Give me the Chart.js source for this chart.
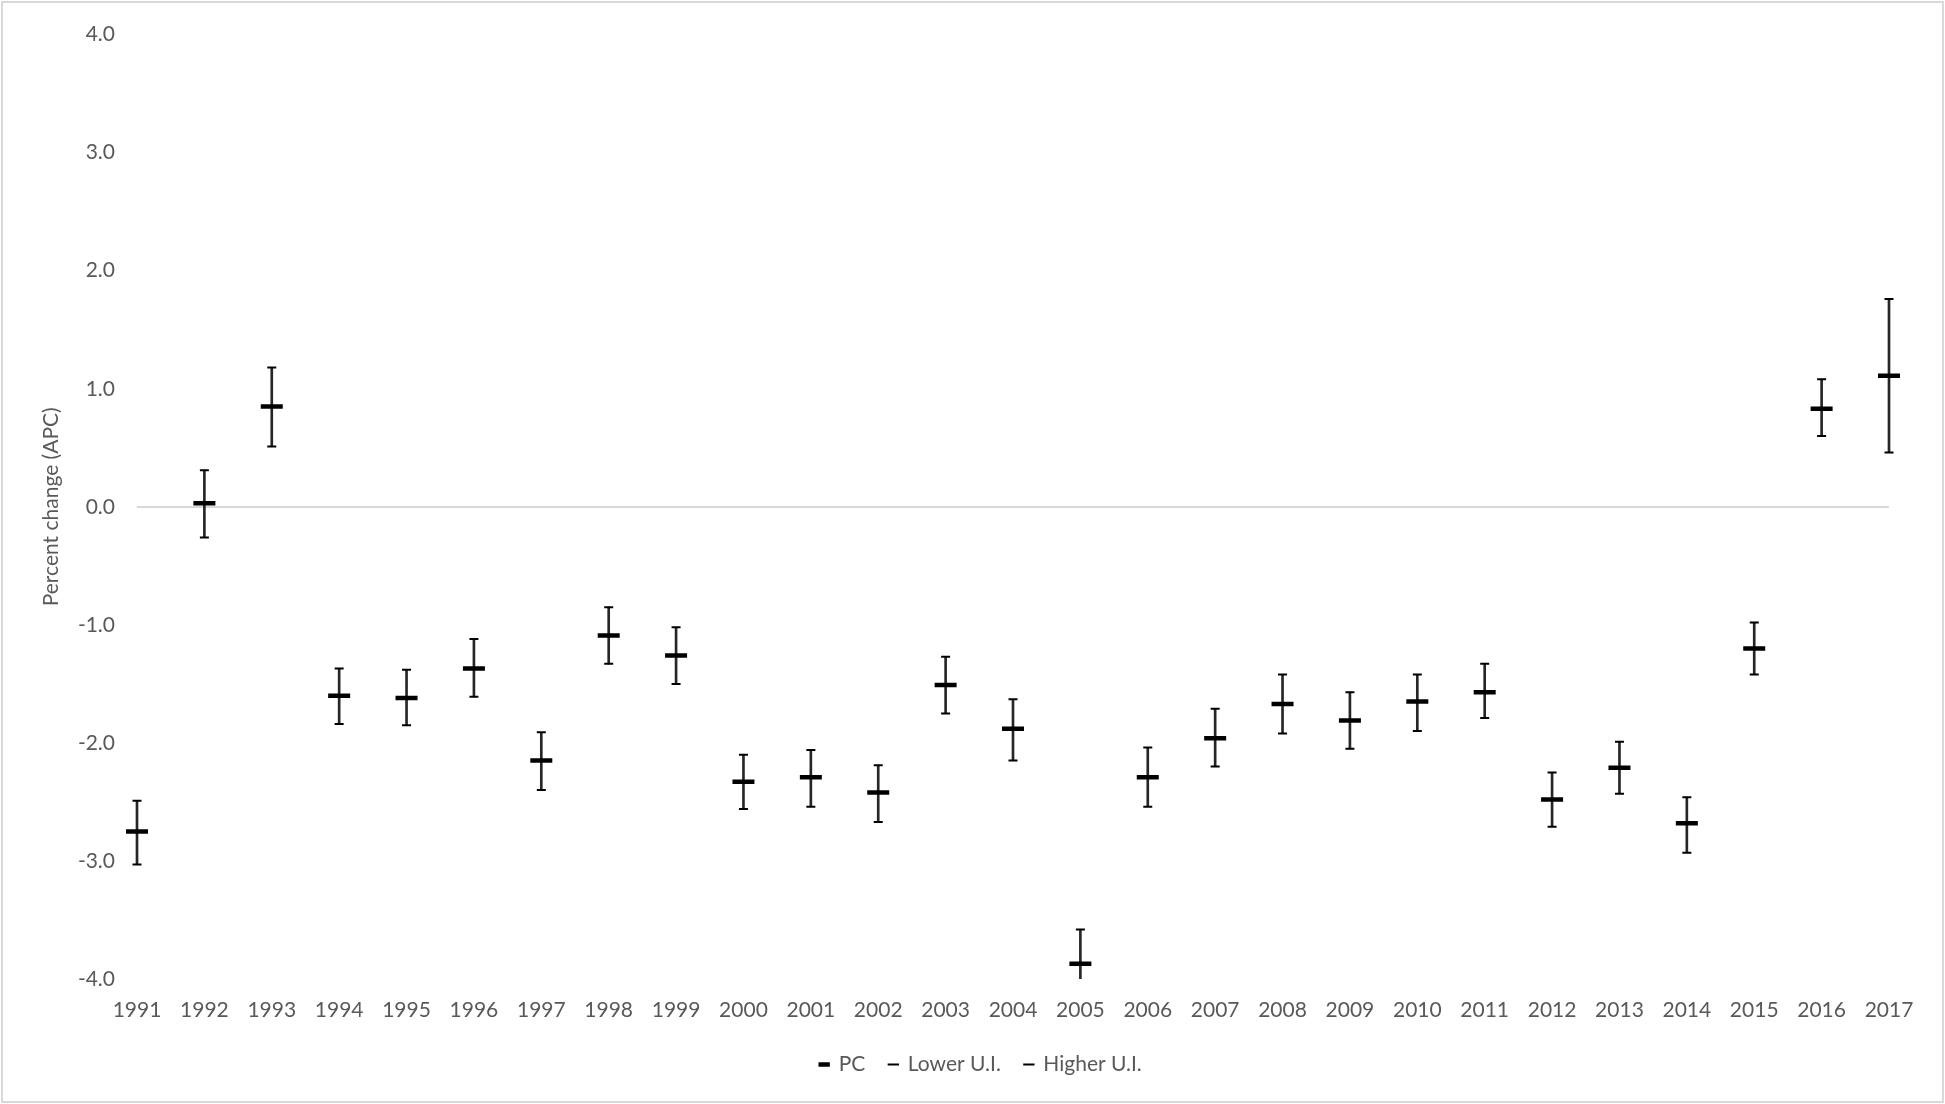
<!DOCTYPE html>
<html>
<head>
<meta charset="utf-8">
<script src="https://cdn.jsdelivr.net/npm/chart.js@4.4.1/dist/chart.umd.min.js"></script>
<style>
  html, body { margin: 0; padding: 0; background: #fff; }
  #wrap { position: relative; width: 1945px; height: 1104px; }
  #frame { position: absolute; left: 1px; top: 1px; width: 1939px; height: 1098px; border: 2px solid #d9d9d9; pointer-events: none; }
</style>
</head>
<body>
<div id="wrap">
  <canvas id="apcChart" width="1945" height="1104"></canvas>
  <div id="frame"></div>
</div>
<script>
// annual percent change with uncertainty interval, 1991-2017
const years = ['1991', '1992', '1993', '1994', '1995', '1996', '1997', '1998', '1999',
  '2000', '2001', '2002', '2003', '2004', '2005', '2006', '2007', '2008', '2009',
  '2010', '2011', '2012', '2013', '2014', '2015', '2016', '2017'];

const pcValues = [-2.75, 0.03, 0.85, -1.60, -1.62, -1.37, -2.15, -1.09, -1.26,
  -2.33, -2.29, -2.42, -1.51, -1.88, -3.87, -2.29, -1.96, -1.67, -1.81,
  -1.65, -1.57, -2.48, -2.21, -2.68, -1.20, 0.83, 1.11];

const lowerUI = [-3.03, -0.26, 0.51, -1.84, -1.85, -1.61, -2.40, -1.33, -1.50,
  -2.56, -2.54, -2.67, -1.75, -2.15, -4.15, -2.54, -2.20, -1.92, -2.05,
  -1.90, -1.79, -2.71, -2.43, -2.93, -1.42, 0.60, 0.46];

const higherUI = [-2.49, 0.31, 1.18, -1.37, -1.38, -1.12, -1.91, -0.85, -1.02,
  -2.10, -2.06, -2.19, -1.27, -1.63, -3.58, -2.04, -1.71, -1.42, -1.57,
  -1.42, -1.33, -2.25, -1.99, -2.46, -0.98, 1.08, 1.76];

const yMin = -4;
const yMax = 4;

Chart.defaults.font.family = "Lato, 'Open Sans', sans-serif";
Chart.defaults.font.size = 21;
Chart.defaults.color = '#595959';

// vertical high-low line between the two intervals
const ranges = years.map((y, i) => [lowerUI[i], higherUI[i]]);
const edgeClip = { left: 20, right: 20, top: 0, bottom: 0 };
const legendPad = 24;

function markerSeries(label, data, radius, width, order) {
    return {
        label: label,
        data: data,
        showLine: false,
        pointStyle: 'line',
        pointRadius: radius,
        pointHoverRadius: radius,
        pointBorderWidth: width,
        pointHoverBorderWidth: width,
        pointBorderColor: '#000000',
        pointBackgroundColor: '#000000',
        borderColor: '#000000',
        order: order,
        clip: edgeClip
    };
}

// keeps the legend centred where the reference has it
const legendShift = {
    id: 'legendShift',
    afterLayout(chart) {
        const lg = chart.legend;
        const dx = 969 + legendPad / 2 - (lg.left + lg.right) / 2;
        lg.left += dx;
        lg.right += dx;
    }
};

new Chart(document.getElementById('apcChart'), {
    type: 'line',
    data: {
        labels: years,
        datasets: [
            {
                type: 'bar',
                label: 'range',
                data: ranges,
                backgroundColor: '#262626',
                barThickness: 2,
                order: 10,
                clip: edgeClip
            },
            markerSeries('PC', pcValues, 11, 4.5, 0),
            markerSeries('Lower U.I.', lowerUI, 4.5, 2, 1),
            markerSeries('Higher U.I.', higherUI, 4.5, 2, 2)
        ]
    },
    options: {
        responsive: false,
        animation: false,
        layout: { autoPadding: false, padding: { top: 18, right: 56, bottom: 19, left: 0 } },
        plugins: {
            legend: {
                position: 'bottom',
                labels: {
                    usePointStyle: true,
                    boxWidth: 8,
                    boxHeight: 8,
                    padding: legendPad,
                    color: '#595959',
                    filter: item => item.text !== 'range'
                }
            },
            tooltip: { enabled: false }
        },
        scales: {
            x: {
                offset: false,
                grid: { display: false },
                border: { display: false },
                ticks: { autoSkip: false, maxRotation: 0, padding: 11 },
                afterFit: s => { s.height = 51; }
            },
            y: {
                min: yMin,
                max: yMax,
                ticks: { stepSize: 1, padding: 22, callback: v => v.toFixed(1) },
                grid: {
                    drawTicks: false,
                    lineWidth: 2,
                    color: c => (c.tick && c.tick.value === 0) ? '#d9d9d9' : 'rgba(0,0,0,0)'
                },
                border: { display: false },
                title: {
                    display: true,
                    text: 'Percent change (APC)',
                    color: '#595959',
                    padding: { top: 39, bottom: 0 }
                },
                afterFit: s => { s.width = 137; }
            }
        }
    },
    plugins: [legendShift]
});
</script>
</body>
</html>
